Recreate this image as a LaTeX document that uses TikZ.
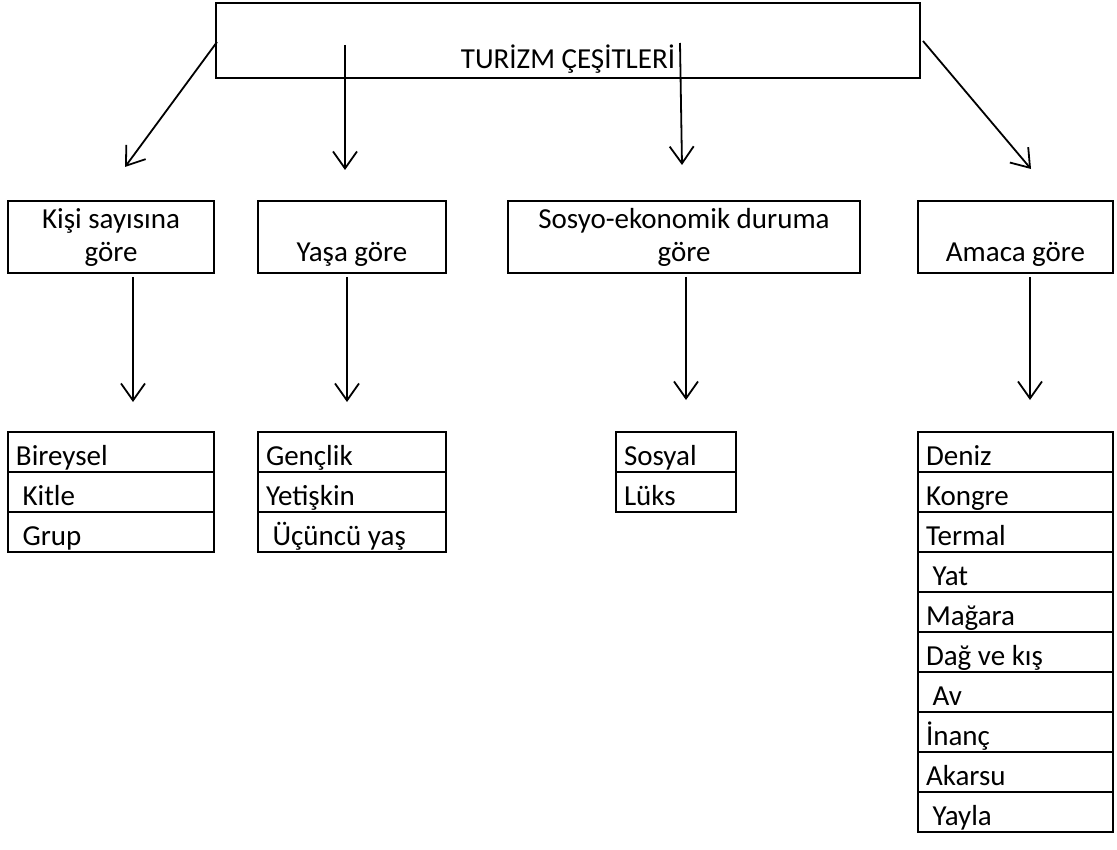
\documentclass[tikz,border=0pt]{standalone}
\usepackage{fontspec}
\setmainfont{Carlito}
\usetikzlibrary{arrows.meta}
\usetikzlibrary{positioning}

\begin{document}
\begin{tikzpicture}[x=1pt,y=-1pt,>={Straight Barb[length=17pt,width=24pt]},
                    font=\fontsize{29}{33}\selectfont,
                    main node/.style={draw,line width=2.7pt,inner sep=0pt,outer sep=0pt},
                    text node/.style={anchor=base,inner sep=0pt,align=center},
                    item node/.style={draw,line width=2.5pt,outer sep=0pt,inner xsep=8pt,inner ysep=0pt,
                                      text height=33pt,text depth=7pt,align=flush left,text width=#1},
                    arrow/.style={->,line width=1.8pt}]

      \useasboundingbox (0,0) rectangle (1117,850);

      % top
      \node[main node,minimum width=704pt,minimum height=75pt] (1) at (568,40.5) {};
      \node[text node] (1t) at (568,69) {TURİZM ÇEŞİTLERİ};

      % categories
      \node[main node,minimum width=206pt,minimum height=72pt] (2) at (111,237) {};
      \node[main node,minimum width=188pt,minimum height=72pt] (3) at (352,237) {};
      \node[main node,minimum width=352pt,minimum height=72pt] (4) at (684,237) {};
      \node[main node,minimum width=195pt,minimum height=72pt] (5) at (1015.5,237) {};
      \node[text node] (2t) at (111,262) {Kişi sayısına\\göre};
      \node[text node] (3t) at (352,262) {Yaşa göre};
      \node[text node] (4t) at (684,262) {Sosyo-ekonomik duruma\\göre};
      \node[text node] (5t) at (1015.5,262) {Amaca göre};

      % lists
      \node[item node=190pt,anchor=north west] (6) at (8,432) {Bireysel};
      \node[item node=190pt] (7) [below=0pt of 6] {\ Kitle};
      \node[item node=190pt] (8) [below=0pt of 7] {\ Grup};

      \node[item node=172pt,anchor=north west] (9) at (258,432) {Gençlik};
      \node[item node=172pt] (10) [below=0pt of 9] {Yetişkin};
      \node[item node=172pt] (11) [below=0pt of 10] {\ Üçüncü yaş};

      \node[item node=104pt,anchor=north west] (12) at (616,432) {Sosyal};
      \node[item node=104pt] (13) [below=0pt of 12] {Lüks};

      \node[item node=179pt,anchor=north west] (14) at (918,432) {Deniz};
      \node[item node=179pt] (15) [below=0pt of 14] {Kongre};
      \node[item node=179pt] (16) [below=0pt of 15] {Termal};
      \node[item node=179pt] (17) [below=0pt of 16] {\ Yat};
      \node[item node=179pt] (18) [below=0pt of 17] {Mağara};
      \node[item node=179pt] (19) [below=0pt of 18] {Dağ ve kış};
      \node[item node=179pt] (20) [below=0pt of 19] {\ Av};
      \node[item node=179pt] (21) [below=0pt of 20] {İnanç};
      \node[item node=179pt] (22) [below=0pt of 21] {Akarsu};
      \node[item node=179pt] (23) [below=0pt of 22] {\ Yayla};

      % arrows
      \coordinate (1a) at (217,42);   \coordinate (2a) at (125,167);
      \coordinate (1b) at (345,45);   \coordinate (3a) at (345,170);
      \coordinate (1c) at (680,43);   \coordinate (4a) at (682,165);
      \coordinate (1d) at (923,41);   \coordinate (5a) at (1031,169);
      \coordinate (2b) at (133,277);  \coordinate (6a) at (133,402);
      \coordinate (3b) at (347,277);  \coordinate (9a) at (347,402);
      \coordinate (4b) at (686,277);  \coordinate (12a) at (686,400);
      \coordinate (5b) at (1030,277); \coordinate (14a) at (1030,400);

      \draw[arrow] (1a) -- (2a);
      \draw[arrow] (1b) -- (3a);
      \draw[arrow] (1c) -- (4a);
      \draw[arrow] (1d) -- (5a);
      \draw[arrow] (2b) -- (6a);
      \draw[arrow] (3b) -- (9a);
      \draw[arrow] (4b) -- (12a);
      \draw[arrow] (5b) -- (14a);
    \end{tikzpicture}
\end{document}
